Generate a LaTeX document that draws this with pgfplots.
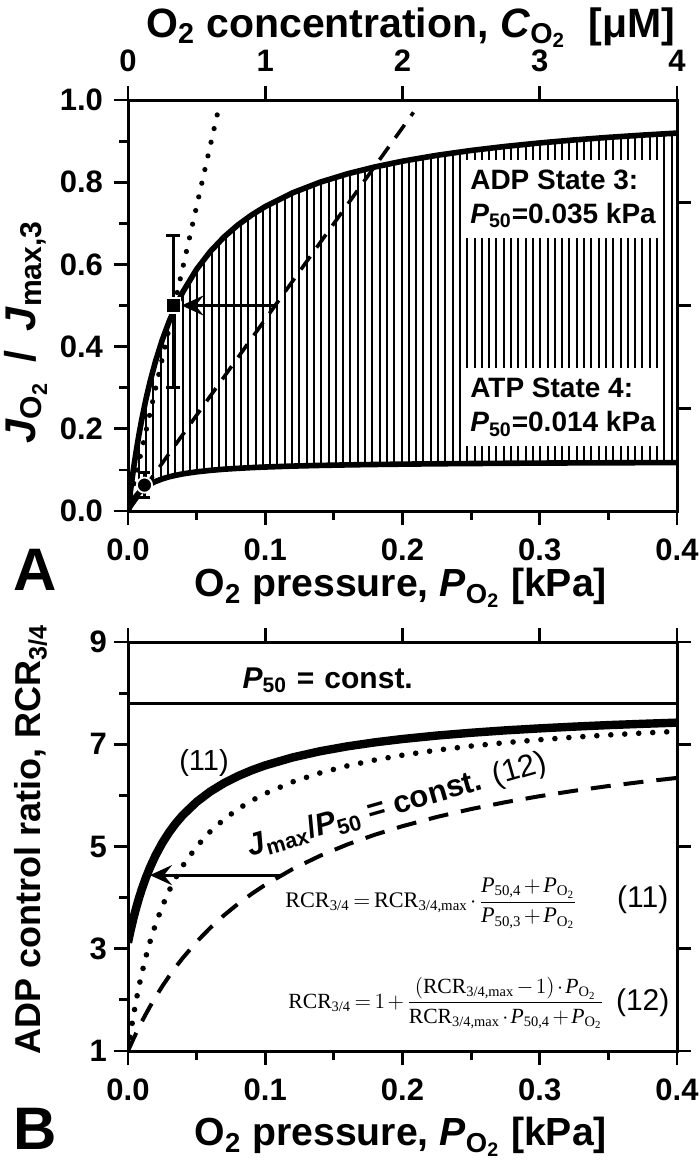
\documentclass[border=0pt]{standalone}
\usepackage{fontspec}
\setmainfont{Liberation Sans}
\newfontfamily\serif{Liberation Serif}
\usepackage{amsmath}
\usepackage{graphicx}
\usepackage{pgfplots}
\usepackage{pgfplotstable}
\pgfplotsset{compat=1.18}
\usepgfplotslibrary{fillbetween}
\usetikzlibrary{patterns.meta,arrows.meta}

\newcommand{\sr}[1]{\text{\normalfont\serif #1}}
\newcommand{\si}[1]{\text{\normalfont\serif\itshape #1}}

\pgfplotstableread{
P J3 J4
0 0 0
0.001 0.0278 0.0081
0.002 0.0541 0.0153
0.004 0.1026 0.0271
0.006 0.1463 0.0366
0.008 0.1860 0.0444
0.010 0.2222 0.0508
0.013 0.2708 0.0587
0.016 0.3137 0.0651
0.020 0.3636 0.0718
0.025 0.4167 0.0782
0.030 0.4615 0.0832
0.035 0.5000 0.0871
0.040 0.5333 0.0904
0.050 0.5882 0.0953
0.060 0.6316 0.0989
0.070 0.6667 0.1017
0.080 0.6957 0.1038
0.090 0.7200 0.1056
0.100 0.7407 0.1070
0.120 0.7742 0.1093
0.140 0.8000 0.1109
0.160 0.8205 0.1122
0.180 0.8372 0.1132
0.200 0.8511 0.1140
0.225 0.8654 0.1149
0.250 0.8772 0.1155
0.275 0.8871 0.1161
0.300 0.8955 0.1166
0.325 0.9028 0.1170
0.350 0.9091 0.1173
0.375 0.9146 0.1176
0.400 0.9195 0.1179
}\tabA

\pgfplotstableread{
P S Dot Dash
0 3.120 1.000 1.000
0.001 3.250 1.189 1.062
0.002 3.373 1.368 1.122
0.004 3.600 1.698 1.240
0.006 3.805 1.995 1.354
0.008 3.991 2.265 1.464
0.010 4.160 2.511 1.571
0.013 4.388 2.841 1.723
0.016 4.588 3.133 1.869
0.020 4.822 3.473 2.053
0.025 5.070 3.833 2.267
0.030 5.280 4.138 2.466
0.035 5.460 4.400 2.651
0.040 5.616 4.627 2.823
0.050 5.873 5.000 3.136
0.060 6.076 5.295 3.411
0.070 6.240 5.533 3.656
0.080 6.376 5.731 3.875
0.090 6.490 5.896 4.072
0.100 6.587 6.037 4.251
0.120 6.743 6.265 4.560
0.140 6.864 6.440 4.820
0.160 6.960 6.579 5.042
0.180 7.038 6.693 5.232
0.200 7.103 6.787 5.398
0.225 7.170 6.885 5.578
0.250 7.225 6.965 5.733
0.275 7.272 7.032 5.867
0.300 7.311 7.089 5.985
0.325 7.345 7.139 6.090
0.350 7.375 7.182 6.183
0.375 7.400 7.219 6.266
0.400 7.423 7.253 6.342
}\tabB

\tikzset{
  lab/.style={font=\fontsize{19.6}{22}\selectfont\bfseries},
  txt/.style={font=\fontsize{14}{17}\selectfont\bfseries},
}
\pgfplotsset{
  /pgf/number format/assume math mode=true,
  base/.style={
    scale only axis, width=274.5pt, xmin=0, xmax=0.4,
    anchor=south west, clip mode=individual,
    axis line style={line width=1.5pt},
    every tick/.style={black, line width=1.4pt},
    major tick length=7pt, minor tick length=4.5pt,
    tick align=outside, scaled ticks=false,
    tick label style={font=\fontsize{15.5}{17}\selectfont\bfseries},
  },
}

\begin{document}
\begin{tikzpicture}

% ---------------- Panel A ----------------
\begin{axis}[base, height=205.5pt, at={(64pt,-255.5pt)}, ymin=0, ymax=1,
  tick pos=left,
  xtick={0,0.1,0.2,0.3,0.4}, minor xtick={0.05,0.15,0.25,0.35},
  ytick={0,0.2,0.4,0.6,0.8,1}, minor ytick={0.1,0.3,0.5,0.7,0.9},
  xticklabel style={inner sep=1pt, yshift=-5.5pt, /pgf/number format/.cd, fixed, fixed zerofill, precision=1},
  yticklabel style={xshift=-2pt, /pgf/number format/.cd, fixed, fixed zerofill, precision=1},
]
\addplot[draw=none, name path=up] table[x=P, y=J3] {\tabA};
\addplot[draw=none, name path=lo] table[x=P, y=J4] {\tabA};
\addplot[pattern={Lines[angle=90, distance=3.65pt, line width=1pt]}, pattern color=black]
  fill between[of=up and lo];
\addplot[black, line width=2.8pt] table[x=P, y=J3] {\tabA};
\addplot[black, line width=2.8pt] table[x=P, y=J4] {\tabA};
\addplot[black, line width=1.8pt, dash pattern=on 8pt off 5.5pt] coordinates {(0,0) (0.208,0.97)};
\addplot[black, line width=2.6pt, line cap=round, dash pattern=on 0pt off 7pt] coordinates {(0,0) (0.0656,0.973)};
\addplot[black, only marks, mark=square*, mark size=3.6pt,
  mark options={fill=black, draw=white, line width=0.9pt},
  error bars/.cd, y dir=both, y explicit,
  error bar style={black, line width=1.3pt},
  error mark options={black, line width=1.3pt, mark size=3.5pt, rotate=90}]
  coordinates {(0.033,0.5) += (0,0.17) -= (0,0.2)};
\addplot[black, only marks, mark=*, mark size=3.8pt,
  mark options={fill=black, draw=white, line width=0.9pt},
  error bars/.cd, y dir=both, y explicit,
  error bar style={black, line width=1.3pt},
  error mark options={black, line width=1.3pt, mark size=3pt, rotate=90}]
  coordinates {(0.012,0.063) +- (0,0.03)};
\addplot[black, line width=1.4pt, -{Stealth[length=11pt, width=10pt, inset=4pt]}]
  coordinates {(0.107,0.5) (0.039,0.5)};
\node[txt, fill=white, align=left, inner xsep=3.5pt, inner ysep=5pt, anchor=west]
  at (axis cs:0.244,0.760) {ADP State 3:\\\textit{P}$_{\text{50}}$=0.035 kPa};
\node[txt, fill=white, align=left, inner xsep=3.5pt, inner ysep=5pt, anchor=west]
  at (axis cs:0.244,0.252) {ATP State 4:\\\textit{P}$_{\text{50}}$=0.014 kPa};
\node[anchor=base, font=\fontsize{20.5}{23}\selectfont\bfseries] at (axis description cs:0.515,1.153)
  {O$_{\text{2}}$ concentration, \textit{C}$_{\text{O}_{\text{2}}}$\ \ [μM]};
\node[lab, anchor=base] at (axis description cs:0.497,-0.209)
  {O$_{\text{2}}$ pressure, \textit{P}$_{\text{O}_{\text{2}}}$ [kPa]};
\node[anchor=base, rotate=90, font=\fontsize{21.5}{24}\selectfont\bfseries] at (axis description cs:-0.169,0.435)
  {\textit{J}$_{\text{O}_{\text{2}}}$\ \,/\ \,\textit{J}$_{\text{max,3}}$};
\node[inner sep=0pt, font=\fontsize{30}{32}\selectfont\bfseries] at (axis description cs:-0.170,-0.144) {A};
\end{axis}
\begin{axis}[base, height=205.5pt, at={(64pt,-255.5pt)}, ymin=0, ymax=1,
  axis x line*=top, axis y line*=right,
  xtick={0,0.1,0.2,0.3,0.4}, xticklabels={0,1,2,3,4},
  xticklabel style={yshift=3.5pt},
  ytick={0.25,0.5,0.75}, yticklabels={},
  minor xtick={}, minor ytick={},
]
\addplot[draw=none] coordinates {(0,0)};
\end{axis}

% ---------------- Panel B ----------------
\begin{axis}[base, height=204.5pt, at={(64pt,-525.5pt)}, ymin=1, ymax=9,
  tick pos=left,
  xtick={0,0.1,0.2,0.3,0.4}, minor xtick={0.05,0.15,0.25,0.35},
  ytick={1,3,5,7,9}, minor ytick={2,4,6,8},
  xticklabel style={inner sep=1pt, yshift=-5.5pt, /pgf/number format/.cd, fixed, fixed zerofill, precision=1},
]
\addplot[black, line width=1.5pt] coordinates {(0,7.8) (0.4,7.8)};
\addplot[black, line width=2pt, dash pattern=on 10pt off 6.5pt] table[x=P, y=Dash] {\tabB};
\addplot[black, line width=2.8pt, line cap=round, dash pattern=on 0pt off 7pt] table[x=P, y=Dot] {\tabB};
\addplot[black, line width=4.2pt] table[x=P, y=S] {\tabB};
\addplot[black, line width=1.4pt, -{Stealth[length=11pt, width=10pt, inset=4pt]}]
  coordinates {(0.112,4.44) (0.016,4.44)};
\node[anchor=base, font=\fontsize{15}{17}\selectfont\bfseries] at (axis cs:0.1455,8.1) {\textit{P}$_{\text{50}}$\,\,=\,\,const.};
\node[font=\fontsize{14.5}{16}\selectfont] at (axis cs:0.0554,6.63) {(11)};
\node[rotate=16, inner sep=0pt, font=\fontsize{15.5}{17}\selectfont\bfseries] at (axis cs:0.196,5.80)
  {\textit{J}$_{\text{max}}$/\textit{P}$_{\text{50}}$ = const. {\mdseries(12)}};
\node at (axis cs:0.221,3.89) {\resizebox{146pt}{!}{\fontsize{12}{14}\selectfont\medmuskip=2mu\thickmuskip=3mu$\sr{RCR}_{\sr{3/4}} = \sr{RCR}_{\sr{3/4,max}}\cdot\dfrac{\si{P}_{\sr{50,4}}+\si{P}_{\sr{O}_{\sr{2}}}}{\si{P}_{\sr{50,3}}+\si{P}_{\sr{O}_{\sr{2}}}}$}};
\node[font=\fontsize{15}{17}\selectfont] at (axis cs:0.375,3.95) {(11)};
\node at (axis cs:0.232,1.94) {\resizebox{158pt}{!}{\fontsize{12}{14}\selectfont\medmuskip=2mu\thickmuskip=3mu$\sr{RCR}_{\sr{3/4}} = 1+\dfrac{(\sr{RCR}_{\sr{3/4,max}}-1)\cdot\si{P}_{\sr{O}_{\sr{2}}}}{\sr{RCR}_{\sr{3/4,max}}\cdot\si{P}_{\sr{50,4}}+\si{P}_{\sr{O}_{\sr{2}}}}$}};
\node[font=\fontsize{15}{17}\selectfont] at (axis cs:0.375,1.94) {(12)};
\node[lab, anchor=base] at (axis description cs:0.497,-0.232)
  {O$_{\text{2}}$ pressure, \textit{P}$_{\text{O}_{\text{2}}}$ [kPa]};
\node[anchor=base, rotate=90, font=\fontsize{18}{20}\selectfont\bfseries] at (axis description cs:-0.160,0.518)
  {ADP control ratio, RCR$_{\text{3/4}}$};
\node[inner sep=0pt, font=\fontsize{30}{32}\selectfont\bfseries] at (axis description cs:-0.169,-0.19) {B};
\end{axis}
\begin{axis}[base, height=204.5pt, at={(64pt,-525.5pt)}, ymin=1, ymax=9,
  axis x line*=top, axis y line*=right,
  xtick={0,0.1,0.2,0.3,0.4}, xticklabels={},
  ytick={1,3,5,7,9}, yticklabels={},
  minor xtick={}, minor ytick={},
]
\addplot[draw=none] coordinates {(0,1)};
\end{axis}
\pgfresetboundingbox
\path (0,0) rectangle (350pt,-580.5pt);
\end{tikzpicture}
\end{document}
